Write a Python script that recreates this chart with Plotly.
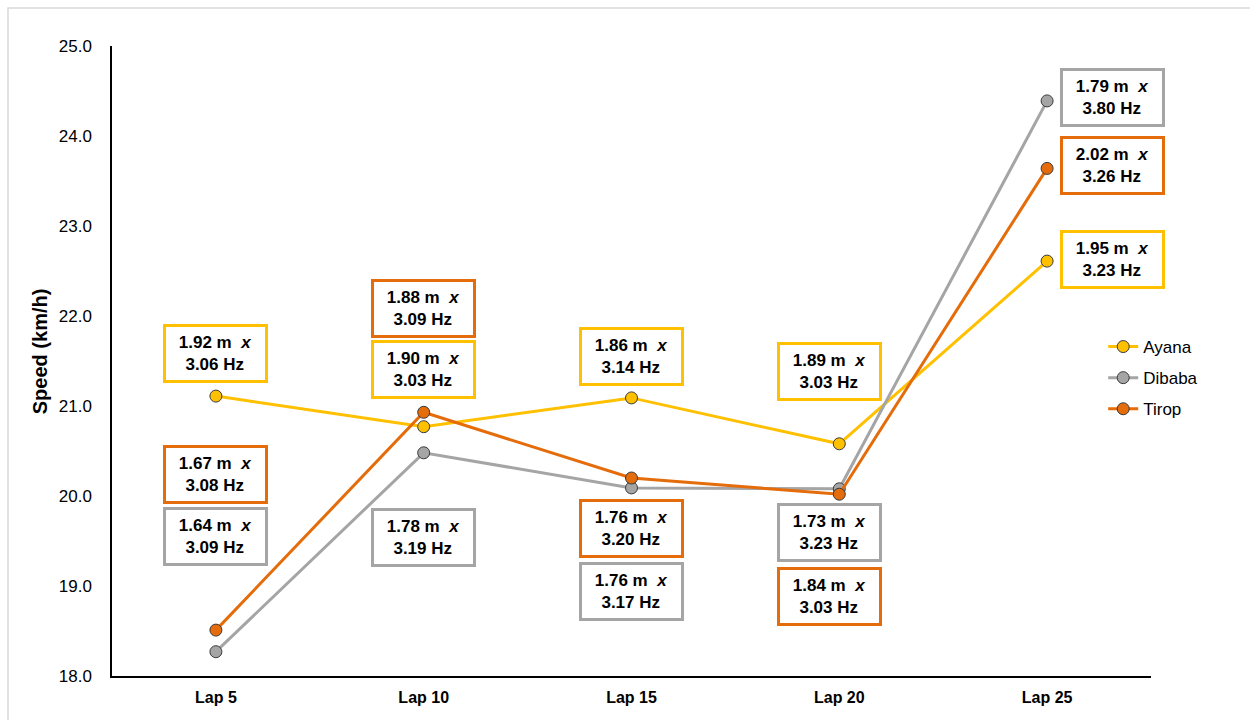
import plotly.graph_objects as go

# Lap checkpoints and average speed (km/h) per athlete
laps = ["Lap 5", "Lap 10", "Lap 15", "Lap 20", "Lap 25"]

ayana_speed = [21.11, 20.77, 21.09, 20.58, 22.61]
dibaba_speed = [18.27, 20.48, 20.09, 20.08, 24.39]
tirop_speed = [18.51, 20.93, 20.20, 20.02, 23.64]

# Step length (m) and step frequency (Hz) at each checkpoint
ayana_step = [1.92, 1.90, 1.86, 1.89, 1.95]
ayana_freq = [3.06, 3.03, 3.14, 3.03, 3.23]
dibaba_step = [1.64, 1.78, 1.76, 1.73, 1.79]
dibaba_freq = [3.09, 3.19, 3.17, 3.23, 3.80]
tirop_step = [1.67, 1.88, 1.76, 1.84, 2.02]
tirop_freq = [3.08, 3.09, 3.20, 3.03, 3.26]

# Label box offsets from each marker, in pixels (x, y; y positive = up)
label_offsets = {
    "Ayana": [(0, 43), (0, 57), (0, 41), (-10, 72), (65, 2)],
    "Dibaba": [(0, 115), (0, -85), (0, -104), (-10, -44), (65, 3)],
    "Tirop": [(0, 156), (0, 104), (0, -50), (-10, -102), (65, 3)],
}

series = [
    ("Ayana", ayana_speed, ayana_step, ayana_freq, "#FFC000"),
    ("Dibaba", dibaba_speed, dibaba_step, dibaba_freq, "#A5A5A5"),
    ("Tirop", tirop_speed, tirop_step, tirop_freq, "#E46C0A"),
]

FONT = "Liberation Sans, Arial, sans-serif"

fig = go.Figure()
annotations = []
for i, (name, speed, step, freq, color) in enumerate(series):
    fig.add_trace(go.Scatter(
        x=laps, y=speed, name=name, mode="lines+markers",
        legendgroup=name,
        line=dict(color=color, width=3),
        marker=dict(size=12, color=color, line=dict(color="#3A3A3A", width=1)),
        cliponaxis=False,
    ))
    for j, lap in enumerate(laps):
        dx, dy = label_offsets[name][j]
        annotations.append(dict(
            x=lap, y=speed[j], xref="x", yref="y",
            xshift=dx, yshift=dy,
            text=f"<b>{step[j]:.2f} m  <i>x</i><br>{freq[j]:.2f} Hz</b>",
            showarrow=False,
            font=dict(family=FONT, size=17, color="#000000"),
            bgcolor="#FFFFFF",
            bordercolor=color, borderwidth=3, borderpad=0,
            width=99, height=53,
            xanchor="center", yanchor="middle", align="center",
        ))

# Vertical axis title
annotations.append(dict(
    text="<b>Speed (km/h)</b>", textangle=-90, showarrow=False,
    xref="paper", yref="paper", x=-0.069, y=0.516,
    xanchor="center", yanchor="middle",
    font=dict(family=FONT, size=20, color="#000000"),
))

fig.update_layout(
    width=1250, height=720,
    margin=dict(l=112, r=99, t=46, b=44),
    paper_bgcolor="#FFFFFF", plot_bgcolor="#FFFFFF",
    font=dict(family=FONT, color="#000000"),
    annotations=annotations,
    showlegend=True,
    legend=dict(
        x=0.954, y=0.473, xanchor="left", yanchor="middle",
        font=dict(family=FONT, size=17, color="#000000"),
        traceorder="grouped", tracegroupgap=6,
        bgcolor="rgba(0,0,0,0)",
    ),
    shapes=[dict(
        type="rect", xref="paper", yref="paper",
        x0=-0.1001, x1=1.2, y0=-0.2, y1=1.0603,
        line=dict(color="#D9D9D9", width=1.5), layer="below",
    )],
)

fig.update_xaxes(
    type="category", range=[-0.5, 4.5],
    showline=True, linecolor="#000000", linewidth=1.5,
    showgrid=False, zeroline=False, ticks="",
    ticklabelstandoff=6,
    tickfont=dict(family=FONT, size=16, color="#000000"),
    tickprefix="<b>", ticksuffix="</b>",
)
fig.update_yaxes(
    range=[18, 25], dtick=1, tickformat=".1f",
    showline=True, linecolor="#000000", linewidth=1.5,
    showgrid=False, zeroline=False, ticks="",
    ticklabelstandoff=15,
    tickfont=dict(family=FONT, size=17, color="#000000"),
)

fig.write_html("out.html")
